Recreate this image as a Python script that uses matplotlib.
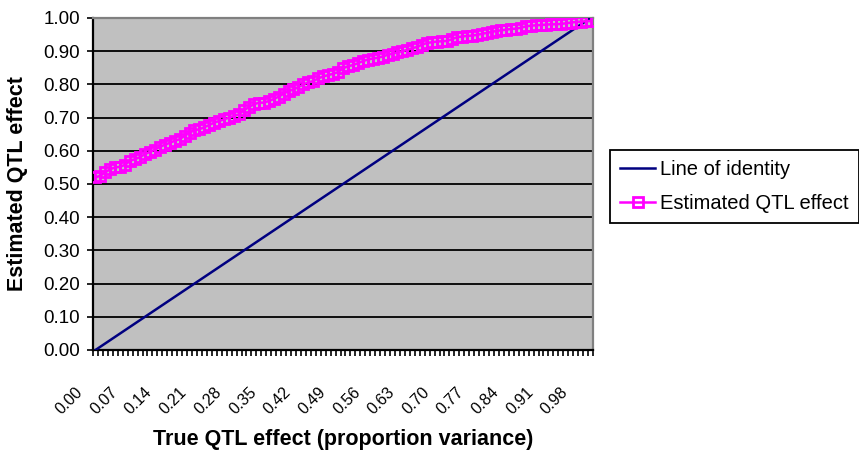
import matplotlib

matplotlib.use("Agg")
import matplotlib.pyplot as plt
from matplotlib.transforms import blended_transform_factory, offset_copy

# ---- data ------------------------------------------------------------------
true_effect = [
    0.00, 0.01, 0.02, 0.03, 0.04, 0.05, 0.06, 0.07, 0.08, 0.09,
    0.10, 0.11, 0.12, 0.13, 0.14, 0.15, 0.16, 0.17, 0.18, 0.19,
    0.20, 0.21, 0.22, 0.23, 0.24, 0.25, 0.26, 0.27, 0.28, 0.29,
    0.30, 0.31, 0.32, 0.33, 0.34, 0.35, 0.36, 0.37, 0.38, 0.39,
    0.40, 0.41, 0.42, 0.43, 0.44, 0.45, 0.46, 0.47, 0.48, 0.49,
    0.50, 0.51, 0.52, 0.53, 0.54, 0.55, 0.56, 0.57, 0.58, 0.59,
    0.60, 0.61, 0.62, 0.63, 0.64, 0.65, 0.66, 0.67, 0.68, 0.69,
    0.70, 0.71, 0.72, 0.73, 0.74, 0.75, 0.76, 0.77, 0.78, 0.79,
    0.80, 0.81, 0.82, 0.83, 0.84, 0.85, 0.86, 0.87, 0.88, 0.89,
    0.90, 0.91, 0.92, 0.93, 0.94, 0.95, 0.96, 0.97, 0.98, 0.99,
    1.00,
]
estimated = [
    0.520, 0.525, 0.535, 0.545, 0.550, 0.552, 0.558, 0.570, 0.575, 0.581,
    0.590, 0.597, 0.603, 0.612, 0.618, 0.624, 0.630, 0.635, 0.645, 0.655,
    0.662, 0.665, 0.671, 0.678, 0.685, 0.690, 0.695, 0.700, 0.705, 0.710,
    0.722, 0.732, 0.740, 0.745, 0.745, 0.750, 0.756, 0.763, 0.772, 0.780,
    0.785, 0.792, 0.800, 0.806, 0.810, 0.818, 0.824, 0.828, 0.832, 0.837,
    0.848, 0.855, 0.858, 0.864, 0.870, 0.875, 0.878, 0.880, 0.884, 0.889,
    0.893, 0.897, 0.900, 0.904, 0.909, 0.913, 0.920, 0.925, 0.927, 0.929,
    0.930, 0.931, 0.936, 0.942, 0.944, 0.946, 0.947, 0.949, 0.952, 0.955,
    0.958, 0.961, 0.963, 0.965, 0.967, 0.968, 0.971, 0.975, 0.977, 0.978,
    0.979, 0.980, 0.981, 0.981, 0.982, 0.984, 0.986, 0.988, 0.989, 0.990,
    0.991,
]
y_ticks = [0.0, 0.1, 0.2, 0.3, 0.4, 0.5, 0.6, 0.7, 0.8, 0.9, 1.0]
LABEL_EVERY = 7

# ---- figure -----------------------------------------------------------------
W, H, DPI = 859, 453, 100
plt.rcParams["font.family"] = ["Liberation Sans", "DejaVu Sans"]

fig = plt.figure(figsize=(W / DPI, H / DPI), dpi=DPI, facecolor="white")
ax = fig.add_axes([93 / W, 1 - 350 / H, 500 / W, 332 / H])
ax.set_facecolor("#C0C0C0")

cats = list(range(len(true_effect)))
ax.plot(cats, true_effect, color="#000080", lw=1.8, label="Line of identity",
        zorder=3)
ax.plot(cats, estimated, color="#FF00FF", lw=1.8, marker="s", ms=7,
        mfc="none", mec="#FF00FF", mew=2.0, label="Estimated QTL effect",
        zorder=4)

ax.set_xlim(-0.5, len(cats) - 0.5)
ax.set_ylim(0, 1)

# y axis: gridlines + labels
ax.set_yticks(y_ticks, [f"{v:.2f}" for v in y_ticks])
ax.yaxis.grid(True, color="black", lw=1.3)
ax.set_axisbelow(True)
ax.tick_params(axis="y", direction="out", length=4.3, width=1.2,
               labelsize=13.5, pad=5)

# x axis: tick mark at every category boundary, label every 7th category
ax.set_xticks([c - 0.5 for c in cats] + [len(cats) - 0.5])
ax.set_xticklabels([])
ax.tick_params(axis="x", direction="out", length=4.3, width=1.2)
lab_tr = offset_copy(blended_transform_factory(ax.transData, ax.transAxes),
                     fig=fig, x=-15, y=-40, units="dots")
for c in cats[::LABEL_EVERY]:
    ax.text(c, 0, f"{true_effect[c]:.2f}", transform=lab_tr, rotation=45,
            rotation_mode="anchor", ha="right", va="center", fontsize=11.5)

for side in ("left", "bottom"):
    ax.spines[side].set_color("black")
    ax.spines[side].set_linewidth(1.6)
for side in ("top", "right"):
    ax.spines[side].set_color("#808080")
    ax.spines[side].set_linewidth(1.6)

fig.text(18 / W, 1 - 184 / H, "Estimated QTL effect", rotation=90,
         ha="center", va="center", fontsize=15.5, fontweight="bold")
fig.text(343 / W, 1 - 440 / H, "True QTL effect (proportion variance)",
         ha="center", va="center", fontsize=15.5, fontweight="bold")

leg = fig.legend(loc="upper left", bbox_to_anchor=(610 / W, 1 - 150 / H),
                 fontsize=14.5, frameon=True, fancybox=False, framealpha=1,
                 edgecolor="black", handlelength=1.75, handletextpad=0.25,
                 borderpad=0.5, labelspacing=0.75, numpoints=1,
                 borderaxespad=0)
leg.get_frame().set_linewidth(1.3)

fig.savefig("out.png", dpi=DPI, facecolor="white")
